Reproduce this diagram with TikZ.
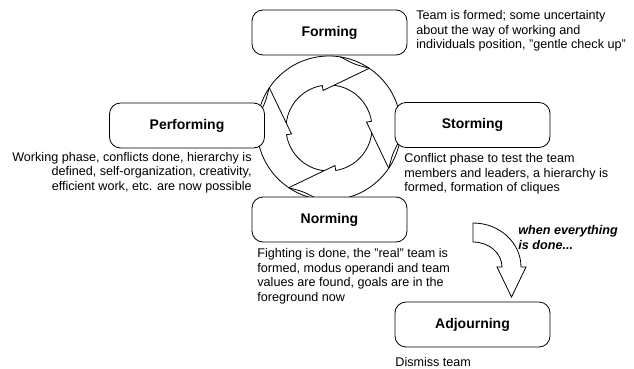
\documentclass[tikz,border=0pt]{standalone}
\usepackage{fontspec}
\setmainfont{Liberation Sans}

\tikzset{
  phase/.style={draw, fill=white, rounded corners=11pt,
    minimum width=155pt, minimum height=45pt, inner sep=0pt,
    font=\fontsize{14}{16}\selectfont\bfseries},
  note/.style={inner sep=0pt, font=\fontsize{12.6}{14.5}\selectfont},
  remark/.style={inner sep=0pt, font=\fontsize{12.6}{14.5}\selectfont\bfseries\itshape},
}

\begin{document}
\begin{tikzpicture}[x=1pt, y=1pt, line width=0.8pt]
\useasboundingbox (0,0) rectangle (634,368);

% cycle ring, the phase boxes sit on top of it
\begin{scope}[shift={(329,240)}]
  \draw (0,0) circle[radius=72];
  \foreach \a in {56,146,236,326} {
    \draw ({\a}:72) -- ({\a+43}:38) -- ({\a+43}:43)
      arc[start angle=\a+43, end angle=\a+117.5, radius=43];
    \draw plot[domain=0:1, samples=24, smooth] ({\a+25*\x}:{72-3*sin(180*\x)});
  }
\end{scope}

% phases
\node[phase] (forming)    at (329.5,335.5) {Forming};
\node[phase] (storming)   at (472.5,243)   {Storming};
\node[phase] (norming)    at (329.5,148.5) {Norming};
\node[phase] (performing) at (187,242.5)   {Performing};
\node[phase] (adjourning) at (472.5,43.5)  {Adjourning};

% what happens in each phase
\node[note, anchor=north west, align=left] (formingtxt) at (416,358)
  {Team is formed; some uncertainty\\about the way of working and\\individuals position, "gentle check up"};
\node[note, anchor=north west, align=left] (stormingtxt) at (404,215)
  {Conflict phase to test the team\\members and leaders, a hierarchy is\\formed, formation of cliques};
\node[note, anchor=north west, align=left] (normingtxt) at (257,120)
  {Fighting is done, the "real" team is\\formed, modus operandi and team\\values are found, goals are in the\\foreground now};
\node[note, anchor=north east, align=right] (performingtxt) at (252,216.5)
  {Working phase, conflicts done, hierarchy is\\defined, self-organization, creativity,\\efficient work, etc. are now possible};
\node[note, anchor=north west] (adjourningtxt) at (395,11.5) {Dismiss team};

% bent arrow down to adjourning
\draw[fill=white] (473,145) arc[start angle=90, end angle=0, x radius=48, y radius=44]
  -- (526,101) -- (511.5,71) -- (497,101) -- (502,101)
  arc[start angle=0, end angle=90, x radius=29, y radius=25] -- cycle;
\node[remark, anchor=north west, align=left] (donetxt) at (518,143)
  {when everything\\is done...};
\end{tikzpicture}
\end{document}
